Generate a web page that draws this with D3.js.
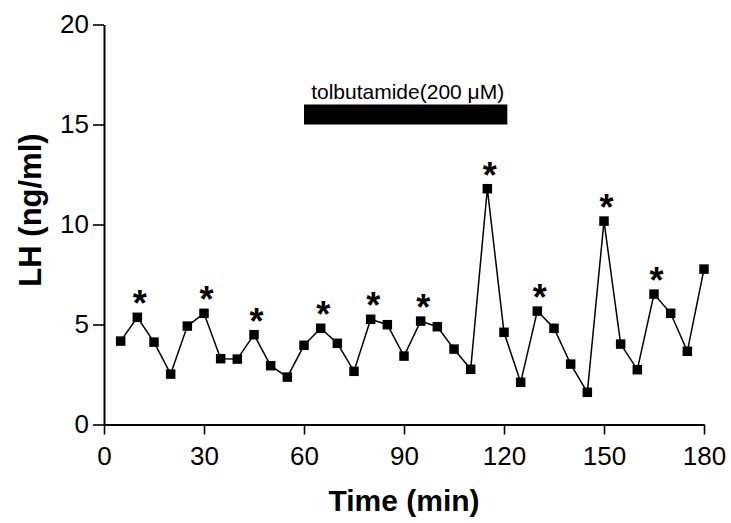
<!DOCTYPE html>
<html>
<head>
<meta charset="utf-8">
<script src="https://cdn.jsdelivr.net/npm/d3@7/dist/d3.min.js"></script>
<style>
  html, body { margin: 0; padding: 0; background: #fff; }
  svg { display: block; }
  text { font-family: "Liberation Sans", Arial, Helvetica, sans-serif; fill: #000; }
</style>
</head>
<body>
<svg id="chart" width="731" height="523"></svg>
<script>
// Sampling times (min) and LH concentrations (ng/ml)
const times = [5, 10, 15, 20, 25, 30, 35, 40, 45, 50, 55, 60, 65, 70, 75, 80, 85, 90,
               95, 100, 105, 110, 115, 120, 125, 130, 135, 140, 145, 150, 155, 160, 165, 170, 175, 180];
const lh = [4.17, 5.36, 4.12, 2.52, 4.92, 5.56, 3.29, 3.27, 4.49, 2.94, 2.37, 3.96, 4.81, 4.06, 2.66, 5.26, 4.99, 3.42,
            5.17, 4.89, 3.77, 2.76, 11.79, 4.61, 2.11, 5.67, 4.81, 3.02, 1.61, 10.17, 4.02, 2.74, 6.52, 5.56, 3.66, 7.77];
// Pulses marked as significant
const pulseTimes = [10, 30, 45, 65, 80, 95, 115, 130, 150, 165];
// Treatment period
const treatment = { label: "tolbutamide(200 \u03bcM)", start: 60, end: 121, low: 15, high: 16 };
// Axis ticks
const xTicks = [0, 30, 60, 90, 120, 150, 180];
const yTicks = [0, 5, 10, 15, 20];

const svg = d3.select("#chart");
const x = d3.scaleLinear().domain([0, 180]).range([104, 704]);
const y = d3.scaleLinear().domain([0, 20]).range([424.5, 24.5]);

// Axes
const xAxis = svg.append("g")
  .attr("transform", `translate(0,${y(0)})`)
  .call(d3.axisBottom(x).tickValues(xTicks).tickSize(10).tickPadding(12).tickSizeOuter(0));
const yAxis = svg.append("g")
  .attr("transform", `translate(${x(0)},0)`)
  .call(d3.axisLeft(y).tickValues(yTicks).tickSize(11).tickPadding(4).tickSizeOuter(0));

[xAxis, yAxis].forEach(g => {
  g.attr("font-family", null);
  g.select(".domain").attr("stroke", "#000").attr("stroke-width", 2);
  g.selectAll(".tick line").attr("stroke", "#000").attr("stroke-width", 1.6);
  g.selectAll(".tick text").attr("font-size", 26).attr("fill", "#000");
});

// Axis titles
svg.append("text")
  .attr("x", (x(0) + x(180)) / 2)
  .attr("y", 511)
  .attr("text-anchor", "middle")
  .attr("font-size", 30)
  .attr("font-weight", "bold")
  .text("Time (min)");

svg.append("text")
  .attr("transform", "translate(40.5,210) rotate(-90)")
  .attr("text-anchor", "middle")
  .attr("font-size", 31)
  .attr("font-weight", "bold")
  .text("LH (ng/ml)");

// Treatment bar and label
svg.append("rect")
  .attr("x", x(treatment.start))
  .attr("y", y(treatment.high))
  .attr("width", x(treatment.end) - x(treatment.start))
  .attr("height", y(treatment.low) - y(treatment.high))
  .attr("fill", "#000");

svg.append("text")
  .attr("x", (x(treatment.start) + x(treatment.end)) / 2 + 2)
  .attr("y", y(treatment.high) - 6)
  .attr("text-anchor", "middle")
  .attr("font-size", 21)
  .text(treatment.label);

// Series line and markers
const points = times.map((t, i) => ({ t, v: lh[i] }));
svg.append("path")
  .datum(points)
  .attr("fill", "none")
  .attr("stroke", "#000")
  .attr("stroke-width", 1.5)
  .attr("d", d3.line().x(d => x(d.t)).y(d => y(d.v)));

const ms = 9.5;
svg.append("g").selectAll("rect")
  .data(points)
  .join("rect")
  .attr("x", d => x(d.t) - ms / 2)
  .attr("y", d => y(d.v) - ms / 2)
  .attr("width", ms)
  .attr("height", ms)
  .attr("fill", "#000");

// Significance asterisks above the marked pulses
const valueAt = t => lh[times.indexOf(t)];
svg.append("g").selectAll("text")
  .data(pulseTimes)
  .join("text")
  .attr("x", t => x(t) + 2.5)
  .attr("y", t => y(valueAt(t)) - 1)
  .attr("text-anchor", "middle")
  .attr("font-size", 36)
  .attr("font-weight", "bold")
  .text("*");
</script>
</body>
</html>
